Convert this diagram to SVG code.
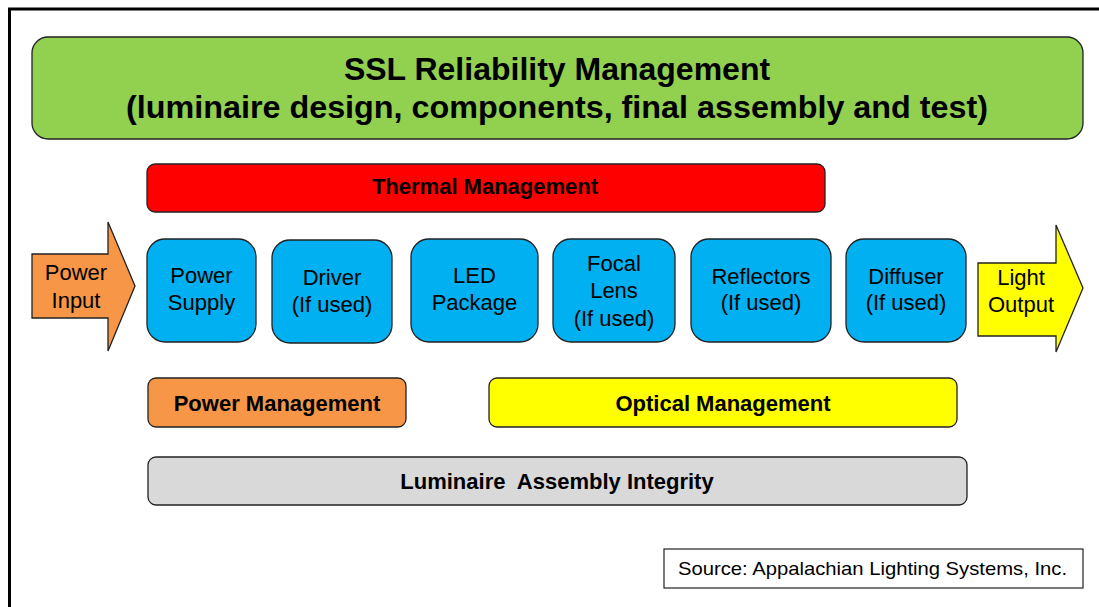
<svg xmlns="http://www.w3.org/2000/svg" width="1099" height="607" viewBox="0 0 1099 607">
<style>
.box{stroke:#222;stroke-width:1.3}
.blue{fill:#00B0F0}
.t{font-family:"Liberation Sans",Arial,sans-serif;font-size:22px;fill:#000;text-anchor:middle}
.b{font-weight:bold}
.title{font-family:"Liberation Sans",Arial,sans-serif;font-size:32px;font-weight:bold;text-anchor:middle}
</style>
<rect x="0" y="0" width="1099" height="607" fill="#fff"/>
<rect x="9.5" y="9" width="1200" height="700" fill="none" stroke="#000" stroke-width="3"/>
<g id="title">
<rect class="box" x="32" y="37" width="1051" height="102" rx="16" fill="#92D050"/>
<text class="title" x="557" y="80">SSL Reliability Management</text>
<text class="title" x="557" y="118" textLength="862" lengthAdjust="spacingAndGlyphs">(luminaire design, components, final assembly and test)</text>
</g>
<g id="thermal">
<rect class="box" x="147" y="164" width="678" height="48" rx="8" fill="#FF0000"/>
<text class="t b" x="485" y="194">Thermal Management</text>
</g>
<g id="power-input">
<polygon class="box" points="32,254 108,254 108,222 135,286 108,351 108,318 32,318" fill="#F79646"/>
<text class="t" x="76" y="280">Power</text>
<text class="t" x="76" y="308">Input</text>
</g>
<g id="power-supply">
<rect class="box blue" x="147" y="239" width="109" height="103" rx="18"/>
<text class="t" x="201.5" y="283">Power</text>
<text class="t" x="201.5" y="310">Supply</text>
</g>
<g id="driver">
<rect class="box blue" x="272" y="240" width="120" height="103" rx="18"/>
<text class="t" x="332" y="285">Driver</text>
<text class="t" x="332" y="312">(If used)</text>
</g>
<g id="led-package">
<rect class="box blue" x="411" y="239" width="127" height="103" rx="18"/>
<text class="t" x="474.5" y="283">LED</text>
<text class="t" x="474.5" y="310">Package</text>
</g>
<g id="focal-lens">
<rect class="box blue" x="553" y="239" width="122" height="103" rx="18"/>
<text class="t" x="614" y="271">Focal</text>
<text class="t" x="614" y="298">Lens</text>
<text class="t" x="614" y="326">(If used)</text>
</g>
<g id="reflectors">
<rect class="box blue" x="691" y="239" width="140" height="103" rx="18"/>
<text class="t" x="761" y="284">Reflectors</text>
<text class="t" x="761" y="310">(If used)</text>
</g>
<g id="diffuser">
<rect class="box blue" x="846" y="239" width="120" height="103" rx="18"/>
<text class="t" x="906" y="284">Diffuser</text>
<text class="t" x="906" y="310">(If used)</text>
</g>
<g id="light-output">
<polygon class="box" points="978,263 1056,263 1056,225 1083,288 1056,352 1056,336 978,336" fill="#FFFF00"/>
<text class="t" x="1021" y="285">Light</text>
<text class="t" x="1021" y="312">Output</text>
</g>
<g id="power-management">
<rect class="box" x="148" y="378" width="258" height="49" rx="8" fill="#F79646"/>
<text class="t b" x="277" y="411">Power Management</text>
</g>
<g id="optical-management">
<rect class="box" x="489" y="378" width="468" height="49" rx="8" fill="#FFFF00"/>
<text class="t b" x="723" y="411">Optical Management</text>
</g>
<g id="assembly-integrity">
<rect class="box" x="148" y="457" width="819" height="48" rx="8" fill="#D9D9D9"/>
<text class="t b" x="557" y="489" xml:space="preserve">Luminaire  Assembly Integrity</text>
</g>
<g id="source">
<rect x="664" y="549" width="419" height="39" fill="#fff" stroke="#222" stroke-width="1.2"/>
<text x="678" y="575" font-family="'Liberation Sans',Arial,sans-serif" font-size="19" textLength="389" lengthAdjust="spacingAndGlyphs">Source: Appalachian Lighting Systems, Inc.</text>
</g>
<g id="connectors"></g>
</svg>
